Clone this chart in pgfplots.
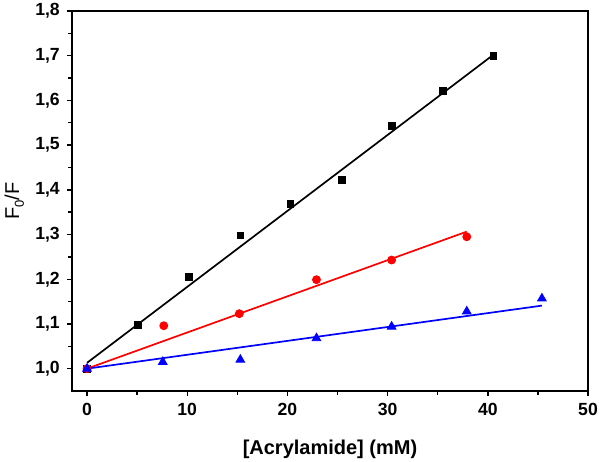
\documentclass[border=0pt]{standalone}
\usepackage{pgfplots}
\pgfplotsset{compat=1.18}
\usepackage{fontspec}
\setmainfont{Liberation Sans}
\definecolor{myred}{RGB}{255,0,0}
\definecolor{myblue}{RGB}{0,0,255}
\begin{document}
\begin{tikzpicture}
\useasboundingbox (-36pt,-35pt) rectangle (264pt,195.5pt);
\begin{axis}[
  scale only axis,
  width=258pt, height=190pt,
  xmin=-1.5, xmax=50,
  ymin=0.95, ymax=1.8,
  axis line style={line width=0.8pt},
  xtick={0,10,20,30,40,50},
  ytick={1.0,1.1,1.2,1.3,1.4,1.5,1.6,1.7,1.8},
  minor x tick num=1, minor y tick num=1,
  tick align=outside,
  xtick pos=bottom, ytick pos=left,
  major tick length=2.6pt, minor tick length=1.8pt,
  every tick/.style={line width=0.7pt, black},
  /pgf/number format/assume math mode=true,
  ticklabel style={font=\fontsize{8.8}{10}\selectfont\bfseries},
  yticklabel style={/pgf/number format/.cd, use comma, fixed, fixed zerofill, precision=1},
  xlabel={\fontsize{10}{12}\selectfont\bfseries [Acrylamide] (mM)},
  ylabel={\fontsize{10}{12}\selectfont F\raisebox{-0.45ex}{\fontsize{6.5}{7}\selectfont 0}/F},
  xlabel style={at={(axis description cs:0.5,-0.153)}, anchor=center},
  ylabel style={at={(axis description cs:-0.112,0.5)}, anchor=center},
  clip=false,
]
% fit lines
\addplot[black, line width=0.85pt] coordinates {(0,1.013) (40.55,1.702)};
\addplot[myred, line width=0.85pt] coordinates {(0,1.0) (37.9,1.3065)};
\addplot[myblue, line width=0.85pt] coordinates {(0,1.0) (45.4,1.141)};
% data
\addplot[only marks, mark=square*, mark size=1.7pt, black] coordinates {
(0,1.0) (5.1,1.097) (10.15,1.205) (15.3,1.298) (20.3,1.368) (25.4,1.423) (30.45,1.543) (35.5,1.622) (40.55,1.700)};
\addplot[only marks, mark=*, mark size=2.0pt, myred] coordinates {
(0,1.0) (7.66,1.096) (15.2,1.123) (22.9,1.199) (30.4,1.243) (37.9,1.295)};
\addplot[only marks, mark=triangle*, mark size=2.5pt, myblue] coordinates {
(0,1.0) (7.56,1.015) (15.3,1.020) (22.9,1.068) (30.4,1.094) (37.9,1.128) (45.4,1.157)};
\end{axis}
\end{tikzpicture}
\end{document}
